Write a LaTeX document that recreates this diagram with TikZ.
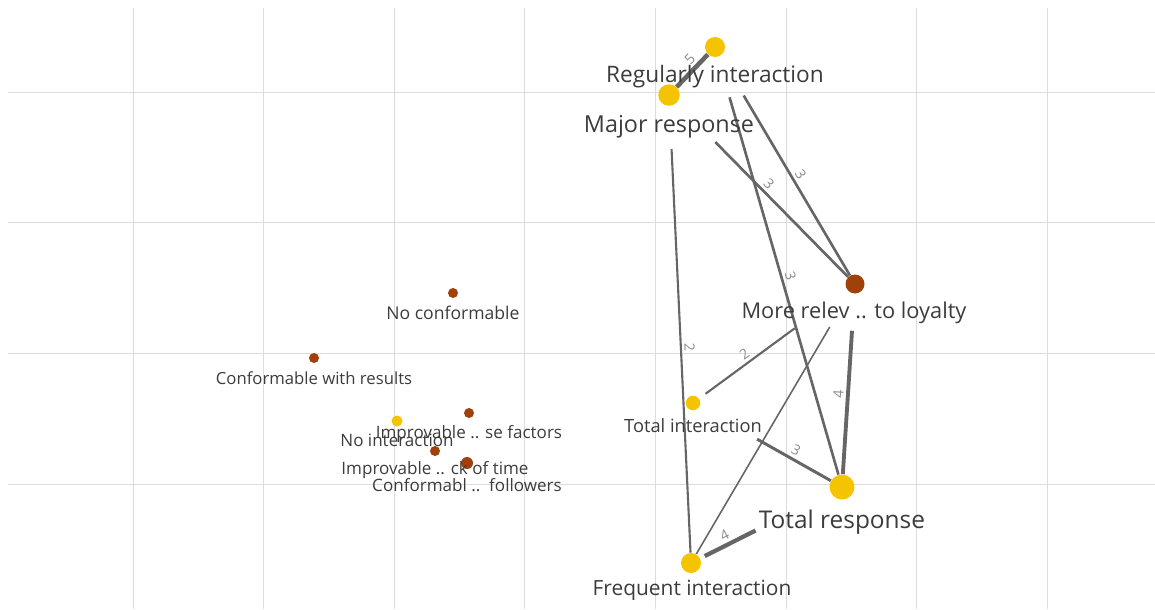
\documentclass[tikz,border=0pt]{standalone}
\usepackage{fontspec}
\setmainfont{Open Sans}
\usetikzlibrary{backgrounds}

\definecolor{gold}{HTML}{F5C400}
\definecolor{rust}{HTML}{A0400A}
\definecolor{linkgray}{HTML}{666666}
\definecolor{gridgray}{HTML}{DCDCDC}
\definecolor{txtgray}{HTML}{3C3C3C}
\definecolor{numgray}{HTML}{8C8C8C}

\begin{document}
\begin{tikzpicture}[x=0.02cm,y=-0.02cm,
  dot/.style={circle,fill=#1,draw=none,inner sep=0pt},
  tag/.style={font=\fontsize{#1}{#1}\selectfont,text=txtgray,inner sep=0pt},
  link/.style={draw=linkgray,line width=#1},
  weight/.style={font=\fontsize{8}{8}\selectfont,text=numgray,sloped,above,inner sep=1.5pt}]

  \useasboundingbox (0,0) rectangle (1155,609);

  % dots
  \node [dot=gold,minimum size=0.4cm]  (reg) at (715,47)  {};
  \node [dot=gold,minimum size=0.43cm] (maj) at (669,95)  {};
  \node [dot=rust,minimum size=0.38cm] (rel) at (855,284) {};
  \node [dot=gold,minimum size=0.29cm] (tin) at (693,403) {};
  \node [dot=gold,minimum size=0.5cm]  (tre) at (842,487) {};
  \node [dot=gold,minimum size=0.4cm]  (fre) at (691,563) {};
  \node [dot=rust,minimum size=0.2cm]  (noc) at (453,293) {};
  \node [dot=rust,minimum size=0.2cm]  (cwr) at (314,358) {};
  \node [dot=gold,minimum size=0.22cm] (noi) at (397,421) {};
  \node [dot=rust,minimum size=0.2cm]  (ims) at (469,413) {};
  \node [dot=rust,minimum size=0.2cm]  (imt) at (435,451) {};
  \node [dot=rust,minimum size=0.24cm] (cfo) at (467,463) {};

  % texts
  \node [tag=12.9] (reg-l) at (715,77)  {Regularly interaction};
  \node [tag=13.3] (maj-l) at (669,127) {Major response};
  \node [tag=12.4] (rel-l) at (854,313) {More relev .. to loyalty};
  \node [tag=10.4] (tin-l) at (693,426) {Total interaction};
  \node [tag=13.9] (tre-l) at (842,522) {Total response};
  \node [tag=11.9] (fre-l) at (692,590) {Frequent interaction};
  \node [tag=10]   (noc-l) at (453,313) {No conformable};
  \node [tag=9.5]  (cwr-l) at (314,378) {Conformable with results};
  \node [tag=9.7]  (noi-l) at (397,440) {No interaction};
  \node [tag=9.7]  (ims-l) at (469,434) {Improvable .. se factors};
  \node [tag=9.7]  (imt-l) at (435,470) {Improvable .. ck of time};
  \node [tag=9.7]  (cfo-l) at (467,485) {Conformabl ..\ \ followers};

  \begin{pgfonlayer}{background}
    \foreach \i in {0,...,7}
      \draw [gridgray,line width=0.5pt] (133+130.6*\i,8) -- (133+130.6*\i,609);
    \foreach \j in {0,...,3}
      \draw [gridgray,line width=0.5pt] (8,92+130.7*\j) -- (1155,92+130.7*\j);

    % connections
    \draw [link=2.6pt] (reg) -- node [weight,pos=0.35] {5} (maj);
    \draw [link=1.5pt,shorten <=0.92cm] (reg) -- node [weight,pos=0.56] {3} (rel);
    \draw [link=1.5pt,shorten <=1.1cm] (maj) -- node [weight,pos=0.5] {3} (rel);
    \draw [link=1.5pt,shorten <=0.84cm] (reg) -- node [weight,pos=0.53] {3} (tre);
    \draw [link=1.2pt,shorten <=0.86cm] (maj) -- node [weight,pos=0.54] {2} (fre);
    \draw [link=1.2pt,shorten <=1.3cm,shorten >=0.16cm] (rel) -- node [weight,pos=0.66] {2} (tin);
    \draw [link=0.9pt,shorten <=0.8cm] (rel) -- (fre);
    \draw [link=2.2pt,shorten <=0.74cm] (rel) -- node [weight,pos=0.56] {4} (tre);
    \draw [link=1.7pt,shorten <=1.32cm] (tin) -- node [weight,pos=0.7] {3} (tre);
    \draw [link=2.4pt,shorten <=0.1cm,shorten >=1.68cm] (fre) -- node [weight,pos=0.22] {4} (tre);
  \end{pgfonlayer}
\end{tikzpicture}
\end{document}
